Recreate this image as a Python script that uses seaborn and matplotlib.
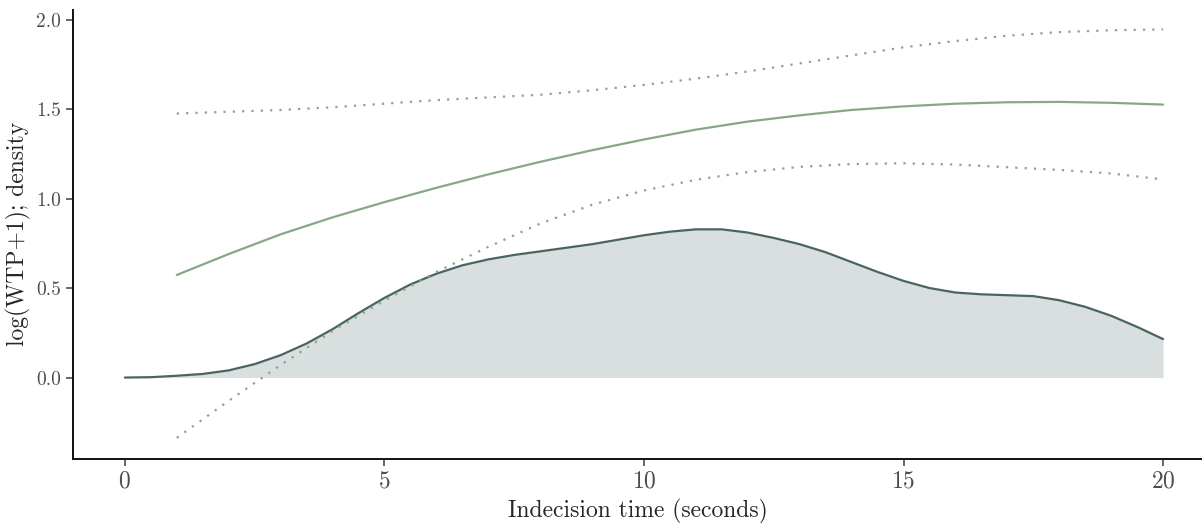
import matplotlib
matplotlib.use("Agg")
import matplotlib.pyplot as plt
import seaborn as sns
import pandas as pd

# density of indecision time
dens_x = [0, 0.5, 1, 1.5, 2, 2.5, 3, 3.5, 4, 4.5, 5, 5.5, 6, 6.5, 7, 7.5, 8, 8.5, 9, 9.5,
          10, 10.5, 11, 11.5, 12, 12.5, 13, 13.5, 14, 14.5, 15, 15.5, 16, 16.5, 17, 17.5,
          18, 18.5, 19, 19.5, 20]
dens_y = [0.0, 0.002, 0.01, 0.02, 0.04, 0.075, 0.125, 0.19, 0.27, 0.36, 0.445, 0.52,
          0.58, 0.627, 0.66, 0.685, 0.705, 0.725, 0.745, 0.77, 0.795, 0.815, 0.828,
          0.828, 0.81, 0.78, 0.745, 0.70, 0.645, 0.59, 0.54, 0.50, 0.475, 0.465, 0.46,
          0.455, 0.432, 0.395, 0.345, 0.283, 0.215]

# fitted log(WTP+1) with confidence band
fit_x = [1, 2, 3, 4, 5, 6, 7, 8, 9, 10, 11, 12, 13, 14, 15, 16, 17, 18, 19, 20]
fit_y = [0.573, 0.69, 0.80, 0.895, 0.98, 1.06, 1.135, 1.205, 1.27, 1.33, 1.385,
         1.43, 1.465, 1.495, 1.515, 1.53, 1.538, 1.54, 1.535, 1.525]
fit_hi = [1.475, 1.485, 1.495, 1.51, 1.53, 1.55, 1.565, 1.58, 1.605, 1.635,
          1.67, 1.71, 1.755, 1.80, 1.845, 1.88, 1.91, 1.93, 1.94, 1.945]
fit_lo = [-0.337, -0.13, 0.07, 0.26, 0.43, 0.59, 0.73, 0.86, 0.965, 1.045,
          1.105, 1.148, 1.177, 1.193, 1.197, 1.19, 1.175, 1.16, 1.14, 1.107]

sns.set_style("ticks")
plt.rcParams['font.family'] = ['cmr10', 'DejaVu Serif']
plt.rcParams['axes.formatter.use_mathtext'] = True
plt.rcParams['mathtext.fontset'] = 'cm'

green = '#86a886'
slate = '#4a6464'

dens = pd.DataFrame({'x': dens_x, 'y': dens_y})
fit = pd.DataFrame({'x': fit_x, 'fit': fit_y, 'hi': fit_hi, 'lo': fit_lo})

fig = plt.figure(figsize=(12.02, 5.23), dpi=100)
ax = fig.add_axes([0.0607, 0.1224, 0.9393, 0.859])

ax.fill_between(dens['x'], 0, dens['y'], color='#d9dfdf', lw=0)
sns.lineplot(data=dens, x='x', y='y', color=slate, lw=1.6, ax=ax)
sns.lineplot(data=fit, x='x', y='fit', color=green, lw=1.6, ax=ax)
sns.lineplot(data=fit, x='x', y='hi', color=green, lw=1.6, ls=(0, (1, 3.2)), ax=ax)
sns.lineplot(data=fit, x='x', y='lo', color=green, lw=1.6, ls=(0, (1, 3.2)), ax=ax)

ax.set_xlim(-1, 20.75)
ax.set_ylim(-0.455, 2.055)
ax.set_xticks([0, 5, 10, 15, 20])
ax.set_yticks([0.0, 0.5, 1.0, 1.5, 2.0])
ax.set_yticklabels(['0.0', '0.5', '1.0', '1.5', '2.0'])
ax.tick_params(axis='x', labelsize=17, colors='#4d4d4d', length=5, width=1.2)
ax.tick_params(axis='y', labelsize=14, colors='#4d4d4d', length=5, width=1.2)
for t in ax.xaxis.get_ticklines() + ax.yaxis.get_ticklines():
    t.set_color('#222222')
ax.set_xlabel('Indecision time (seconds)', fontsize=17, labelpad=4)
ax.set_ylabel('log(WTP+1); density', fontsize=17, labelpad=4)
for s in ['left', 'bottom']:
    ax.spines[s].set_linewidth(1.4)
    ax.spines[s].set_color('#111111')
sns.despine(ax=ax)

plt.savefig('out.png', dpi=100)
plt.close()
